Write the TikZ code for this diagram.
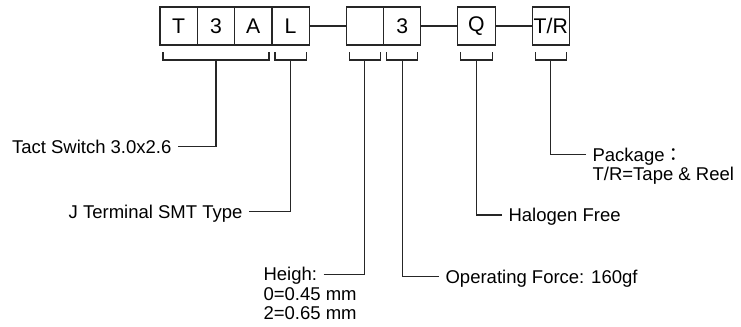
\documentclass[tikz,border=0pt]{standalone}
\usepackage{fontspec}
\setmainfont{Liberation Sans}
\newfontfamily\cjk{Noto Sans CJK TC}
\usepackage{tikz}
\usetikzlibrary{calc,positioning}

\begin{document}
\begin{tikzpicture}[x=0.5pt,y=-0.5pt,
  font=\fontsize{9.25}{9.75}\selectfont,
  line width=0.6pt,
  digit/.style={draw=black!85,minimum width=18.65pt,minimum height=19pt,
                inner sep=0pt,outer sep=0pt,font=\fontsize{10.6}{12}\selectfont},
  lbl/.style={inner xsep=3pt,inner ysep=0pt,text height=6.6pt,text depth=0pt},
  lead/.style={draw=black!85}
]
  \useasboundingbox (0,0) rectangle (741,327);

  % part number boxes
  \node[digit] (t) at (178.65,26) {T};
  \node[digit,right=0pt of t] (n3) {3};
  \node[digit,right=0pt of n3] (a) {A};
  \node[digit,right=0pt of a] (l) {L};
  \node[digit,right=18.5pt of l] (h) {};
  \node[digit,right=0pt of h] (f) {3};
  \node[digit,right=18.5pt of f] (q) {Q};
  \node[digit,right=18.5pt of q] (tr) {T/R};
  \draw[lead] (l)--(h);
  \draw[lead] (f)--(q);
  \draw[lead] (q)--(tr);

  % brackets under each field
  \foreach \from/\to/\br in {t/a/bT,l/l/bL,h/h/bH,f/f/bF,q/q/bQ,tr/tr/bR}{
    \draw[lead] ($(\from.south west)+(3,7)$) -- ++(0,8) -| ($(\to.south east)+(-3,7)$);
    \coordinate (\br) at ($(\from.south west)!.5!(\to.south east)+(0,15)$);
  }

  % descriptions
  \node[lbl,anchor=east] (tact) at (178,146.5) {Tact Switch 3.0x2.6};
  \node[lbl,anchor=east] (jterm) at (249,211.7) {J Terminal SMT Type};
  \node[lbl,anchor=west] (heigh) at (257,274.3) {Heigh:};
  \node[lbl,below=9.75pt of heigh.west,anchor=west] (hval0) {0=0.45 mm};
  \node[lbl,below=9.75pt of hval0.west,anchor=west] (hval2) {2=0.65 mm};
  \node[lbl,anchor=west] (force) at (439,276.7) {Operating Force: 160gf};
  \node[lbl,anchor=west] (halogen) at (502,215) {Halogen Free};
  \node[lbl,anchor=west] (pack) at (586,154.4) {Package{\cjk ：}};
  \node[lbl,below=9.75pt of pack.west,anchor=west] (packval) {T/R=Tape \& Reel};

  \draw[lead] (tact.east) -| (bT);
  \draw[lead] (jterm.east) -| (bL);
  \draw[lead] (heigh.east) -| (bH);
  \draw[lead] (force.west) -| (bF);
  \draw[lead] (halogen.west) -| (bQ);
  \draw[lead] (pack.west) -| (bR);
\end{tikzpicture}
\end{document}
